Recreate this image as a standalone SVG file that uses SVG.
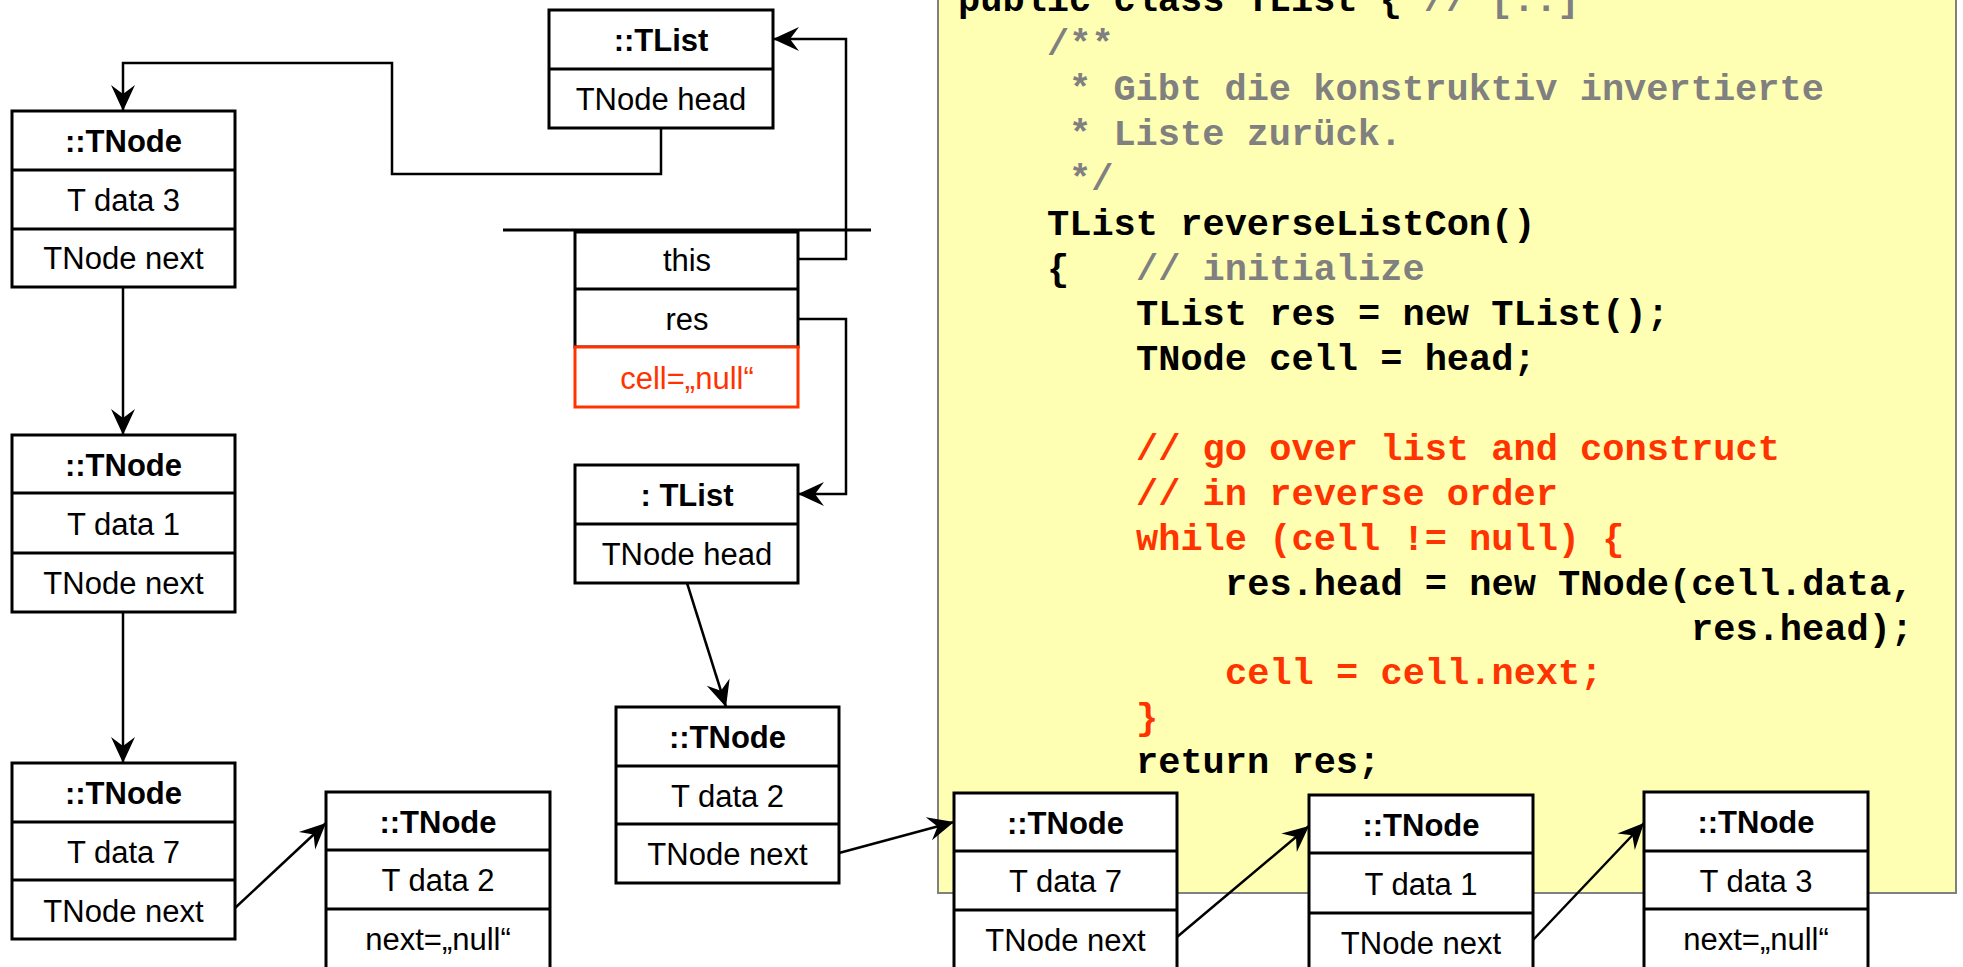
<svg xmlns="http://www.w3.org/2000/svg" width="1963" height="967" viewBox="0 0 1963 967">
<defs>
<marker id="arr" markerUnits="userSpaceOnUse" markerWidth="32" markerHeight="32" viewBox="-30 -16 32 32" refX="0" refY="0" orient="auto">
<path d="M0,0 L-26,-12 L-17,0 L-26,12 Z" fill="#000"/>
</marker>
<style>
.box{fill:#fff;stroke:#000;stroke-width:3}
.sep{stroke:#000;stroke-width:3}
.red{fill:#fff;stroke:#FF3300;stroke-width:3}
.t{font-family:"Liberation Sans",Arial,sans-serif;font-size:31px;text-anchor:middle;fill:#000}
.b{font-weight:bold}
.tr{fill:#FF3300}
.con{fill:none;stroke:#000;stroke-width:2.5}
.code{font-family:"Liberation Mono","Courier New",monospace;font-size:37px;font-weight:bold;fill:#000}
.cg{fill:#808080}
.cr{fill:#FF3300}
</style>
</defs>
<rect width="1963" height="967" fill="#fff"/>
<g id="code">
<rect x="938" y="-10" width="1018" height="903" fill="#FFFFB3" stroke="#808080" stroke-width="2"/>
<text class="code" x="958" y="11">public class TList { </text>
<text class="code cg" x="1424" y="11">// [..]</text>
<text class="code cg" x="1047" y="55">/**</text>
<text class="code cg" x="1069" y="100">* Gibt die konstruktiv invertierte</text>
<text class="code cg" x="1069" y="145">* Liste zurück.</text>
<text class="code cg" x="1069" y="190">*/</text>
<text class="code" x="1047" y="235">TList reverseListCon()</text>
<text class="code" x="1047" y="280">{</text>
<text class="code cg" x="1136" y="280">// initialize</text>
<text class="code" x="1136" y="325">TList res = new TList();</text>
<text class="code" x="1136" y="370">TNode cell = head;</text>
<text class="code cr" x="1136" y="460">// go over list and construct</text>
<text class="code cr" x="1136" y="505">// in reverse order</text>
<text class="code cr" x="1136" y="550">while (cell != null) {</text>
<text class="code" x="1225" y="595">res.head = new TNode(cell.data,</text>
<text class="code" x="1691" y="640">res.head);</text>
<text class="code cr" x="1225" y="684">cell = cell.next;</text>
<text class="code cr" x="1136" y="729">}</text>
<text class="code" x="1136" y="773">return res;</text>
</g>
<g id="connectors">
<path class="con" d="M661,128 V174 H392 V63 H123 V111" marker-end="url(#arr)"/>
<path class="con" d="M123,287 V435" marker-end="url(#arr)"/>
<path class="con" d="M123,612 V763" marker-end="url(#arr)"/>
<path class="con" d="M235,908 L326,823" marker-end="url(#arr)"/>
<path class="con" d="M798,259 H846 V39 H773" marker-end="url(#arr)"/>
<path class="con" d="M798,319 H846 V494 H798" marker-end="url(#arr)"/>
<path class="con" d="M687,583 L726,707" marker-end="url(#arr)"/>
<path class="con" d="M839,853 L954,822" marker-end="url(#arr)"/>
<path class="con" d="M1177,937 L1309,826" marker-end="url(#arr)"/>
<path class="con" d="M1533,940 L1644,823" marker-end="url(#arr)"/>
</g>
<g id="tlist-top">
<rect class="box" x="549" y="10" width="224" height="118"/>
<line class="sep" x1="549" y1="69" x2="773" y2="69"/>
<text class="t b" x="661" y="51">::TList</text>
<text class="t" x="661" y="110">TNode head</text>
</g>
<g id="node-a">
<rect class="box" x="12" y="111" width="223" height="176"/>
<line class="sep" x1="12" y1="170" x2="235" y2="170"/>
<line class="sep" x1="12" y1="229" x2="235" y2="229"/>
<text class="t b" x="123.5" y="152">::TNode</text>
<text class="t" x="123.5" y="211">T data 3</text>
<text class="t" x="123.5" y="269">TNode next</text>
</g>
<g id="node-b">
<rect class="box" x="12" y="435" width="223" height="177"/>
<line class="sep" x1="12" y1="493" x2="235" y2="493"/>
<line class="sep" x1="12" y1="553" x2="235" y2="553"/>
<text class="t b" x="123.5" y="476">::TNode</text>
<text class="t" x="123.5" y="535">T data 1</text>
<text class="t" x="123.5" y="594">TNode next</text>
</g>
<g id="node-c">
<rect class="box" x="12" y="763" width="223" height="176"/>
<line class="sep" x1="12" y1="822" x2="235" y2="822"/>
<line class="sep" x1="12" y1="880" x2="235" y2="880"/>
<text class="t b" x="123.5" y="804">::TNode</text>
<text class="t" x="123.5" y="863">T data 7</text>
<text class="t" x="123.5" y="922">TNode next</text>
</g>
<g id="node-d">
<rect class="box" x="326" y="792" width="224" height="190"/>
<line class="sep" x1="326" y1="850" x2="550" y2="850"/>
<line class="sep" x1="326" y1="909" x2="550" y2="909"/>
<text class="t b" x="438" y="833">::TNode</text>
<text class="t" x="438" y="891">T data 2</text>
<text class="t" x="438" y="950">next=„null“</text>
</g>
<g id="stack">
<line class="sep" x1="503" y1="230" x2="871" y2="230"/>
<rect class="box" x="575" y="232" width="223" height="115"/>
<line class="sep" x1="575" y1="289" x2="798" y2="289"/>
<text class="t" x="687" y="271">this</text>
<text class="t" x="687" y="330">res</text>
<rect class="red" x="575" y="347" width="223" height="60"/>
<text class="t tr" x="687" y="389">cell=„null“</text>
</g>
<g id="tlist-res">
<rect class="box" x="575" y="465" width="223" height="118"/>
<line class="sep" x1="575" y1="524" x2="798" y2="524"/>
<text class="t b" x="687" y="506">: TList</text>
<text class="t" x="687" y="565">TNode head</text>
</g>
<g id="node-e">
<rect class="box" x="616" y="707" width="223" height="176"/>
<line class="sep" x1="616" y1="766" x2="839" y2="766"/>
<line class="sep" x1="616" y1="824" x2="839" y2="824"/>
<text class="t b" x="727.5" y="748">::TNode</text>
<text class="t" x="727.5" y="807">T data 2</text>
<text class="t" x="727.5" y="865">TNode next</text>
</g>
<g id="node-f">
<rect class="box" x="954" y="793" width="223" height="190"/>
<line class="sep" x1="954" y1="851" x2="1177" y2="851"/>
<line class="sep" x1="954" y1="910" x2="1177" y2="910"/>
<text class="t b" x="1065.5" y="834">::TNode</text>
<text class="t" x="1065.5" y="892">T data 7</text>
<text class="t" x="1065.5" y="951">TNode next</text>
</g>
<g id="node-g">
<rect class="box" x="1309" y="795" width="224" height="190"/>
<line class="sep" x1="1309" y1="853" x2="1533" y2="853"/>
<line class="sep" x1="1309" y1="913" x2="1533" y2="913"/>
<text class="t b" x="1421" y="836">::TNode</text>
<text class="t" x="1421" y="895">T data 1</text>
<text class="t" x="1421" y="954">TNode next</text>
</g>
<g id="node-h">
<rect class="box" x="1644" y="792" width="224" height="190"/>
<line class="sep" x1="1644" y1="851" x2="1868" y2="851"/>
<line class="sep" x1="1644" y1="909" x2="1868" y2="909"/>
<text class="t b" x="1756" y="833">::TNode</text>
<text class="t" x="1756" y="892">T data 3</text>
<text class="t" x="1756" y="950">next=„null“</text>
</g>
</svg>
